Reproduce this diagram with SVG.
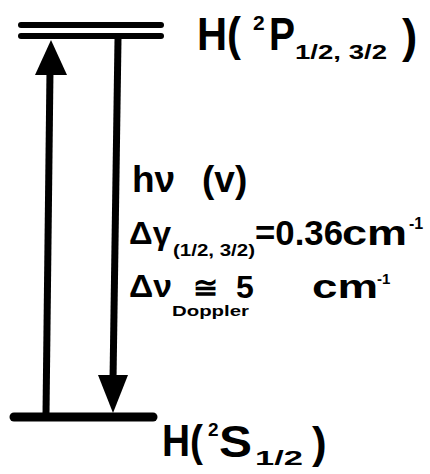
<svg xmlns="http://www.w3.org/2000/svg" width="430" height="474" viewBox="0 0 430 474">
<style>
.t{font-family:"Liberation Sans",Arial,sans-serif;fill:#000}
.b{font-weight:bold}
.lv{stroke:#000;stroke-linecap:round;fill:none}
</style>
<rect width="430" height="474" fill="#fff"/>
<g id="level-2P">
<line class="lv" x1="21" y1="25" x2="161" y2="25" stroke-width="6"/>
<line class="lv" x1="21" y1="36" x2="161" y2="36" stroke-width="6"/>
<text class="t b" x="197" y="50" font-size="46" textLength="44" lengthAdjust="spacingAndGlyphs">H(</text>
<text class="t b" x="253" y="30" font-size="21">2</text>
<text class="t b" x="269" y="50" font-size="46" textLength="26" lengthAdjust="spacingAndGlyphs">P</text>
<text class="t b" x="295" y="59" font-size="20" textLength="92" lengthAdjust="spacingAndGlyphs">1/2,  3/2</text>
<text class="t b" x="402" y="52" font-size="46">)</text>
</g>
<g id="level-2S">
<line class="lv" x1="14" y1="417" x2="153" y2="417" stroke-width="9"/>
<text class="t b" x="162" y="456" font-size="44" textLength="41" lengthAdjust="spacingAndGlyphs">H(</text>
<text class="t b" x="208" y="436" font-size="19">2</text>
<text class="t b" x="219" y="457" font-size="44" textLength="33" lengthAdjust="spacingAndGlyphs">S</text>
<text class="t b" x="255" y="465" font-size="21" textLength="48" lengthAdjust="spacingAndGlyphs">1/2</text>
<text class="t b" x="312" y="458" font-size="44">)</text>
</g>
<g id="connectors">
<line x1="46" y1="414" x2="50" y2="70" stroke="#000" stroke-width="7"/>
<polygon points="51,40 35,75 67,75" fill="#000"/>
<line x1="118" y1="39" x2="113" y2="380" stroke="#000" stroke-width="7"/>
<polygon points="113,413 98,375 128,375" fill="#000"/>
</g>
<g id="labels">
<text class="t b" x="132" y="192" font-size="37">hν</text>
<text class="t b" x="202" y="192" font-size="37">(v)</text>
<text class="t b" x="129" y="244" font-size="32" textLength="42" lengthAdjust="spacingAndGlyphs">Δγ</text>
<text class="t b" x="173" y="256" font-size="17" textLength="82" lengthAdjust="spacingAndGlyphs">(1/2,  3/2)</text>
<text class="t b" x="255" y="245" font-size="35" textLength="88" lengthAdjust="spacingAndGlyphs">=0.36</text>
<text class="t b" x="342" y="245" font-size="35" textLength="65" lengthAdjust="spacingAndGlyphs">cm</text>
<text class="t b" x="409" y="229" font-size="16">-1</text>
<text class="t b" x="129" y="297" font-size="32" textLength="43" lengthAdjust="spacingAndGlyphs">Δν</text>
<text class="t b" x="172" y="316" font-size="15" textLength="77" lengthAdjust="spacingAndGlyphs">Doppler</text>
<text class="t b" x="193" y="298" font-size="30">≅</text>
<text class="t b" x="236" y="298" font-size="32">5</text>
<text class="t b" x="312" y="298" font-size="33" textLength="66" lengthAdjust="spacingAndGlyphs">cm</text>
<text class="t b" x="377" y="284" font-size="15">-1</text>
</g>
</svg>
